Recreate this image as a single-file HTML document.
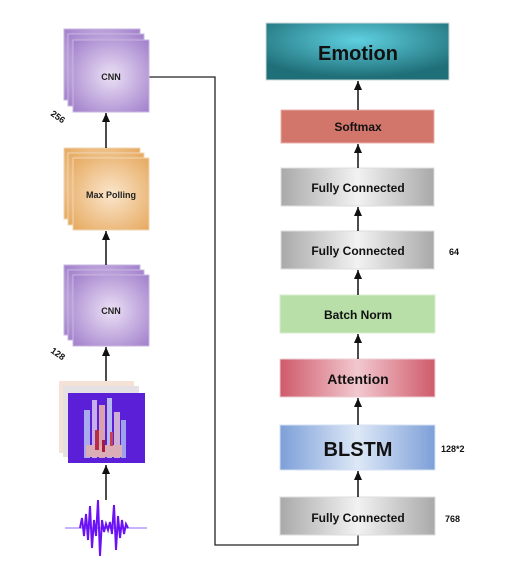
<!DOCTYPE html>
<html><head><meta charset="utf-8"><style>
html,body{margin:0;padding:0;background:#fff;}
svg text{font-family:"Liberation Sans",sans-serif;}
</style></head><body>
<svg width="512" height="568" viewBox="0 0 512 568" xmlns="http://www.w3.org/2000/svg">
<defs>
<radialGradient id="pur" cx="50%" cy="50%" r="70%"><stop offset="0" stop-color="#ebe0f5"/><stop offset="1" stop-color="#a17fcb"/></radialGradient>
<radialGradient id="org" cx="50%" cy="50%" r="70%"><stop offset="0" stop-color="#fbe6cc"/><stop offset="1" stop-color="#e6a95f"/></radialGradient>
<radialGradient id="teal" cx="50%" cy="30%" r="65%"><stop offset="0" stop-color="#5fd0e0"/><stop offset="1" stop-color="#1f6f78"/></radialGradient>
<linearGradient id="gray" x1="0" x2="1"><stop offset="0" stop-color="#a9a9a9"/><stop offset="0.5" stop-color="#f2f2f2"/><stop offset="1" stop-color="#a9a9a9"/></linearGradient>
<linearGradient id="red" x1="0" x2="1"><stop offset="0" stop-color="#cf5a6a"/><stop offset="0.5" stop-color="#f2c8cf"/><stop offset="1" stop-color="#cf5a6a"/></linearGradient>
<linearGradient id="blue" x1="0" x2="1"><stop offset="0" stop-color="#7d9fd8"/><stop offset="0.5" stop-color="#dde8f7"/><stop offset="1" stop-color="#7d9fd8"/></linearGradient>
<marker id="ah" markerWidth="9" markerHeight="8" refX="9" refY="4" orient="auto" markerUnits="userSpaceOnUse"><path d="M0,0 L9,4 L0,8 z" fill="#111"/></marker>
</defs>

<!-- connector -->
<polyline points="149,77 215,77 215,545 358,545 358,535" fill="none" stroke="#222" stroke-width="1.3"/>

<!-- left stacks -->
<g stroke="#c9b6e0" stroke-width="1">
<rect x="64" y="29" width="76" height="71" fill="url(#pur)"/>
<rect x="68" y="34" width="76" height="72" fill="url(#pur)"/>
<rect x="73" y="40" width="76" height="72" fill="url(#pur)"/>
</g>
<text x="111" y="80" font-size="9" font-weight="bold" text-anchor="middle" fill="#222">CNN</text>
<text x="0" y="0" font-size="9" font-weight="bold" fill="#111" transform="translate(50,115) rotate(35)">256</text>

<g stroke="#f0d6b3" stroke-width="1">
<rect x="64" y="148" width="76" height="71" fill="url(#org)"/>
<rect x="68" y="153" width="76" height="72" fill="url(#org)"/>
<rect x="73" y="158" width="76" height="72" fill="url(#org)"/>
</g>
<text x="111" y="198" font-size="9" font-weight="bold" text-anchor="middle" fill="#222">Max Polling</text>

<g stroke="#c9b6e0" stroke-width="1">
<rect x="64" y="265" width="76" height="70" fill="url(#pur)"/>
<rect x="68" y="270" width="76" height="70" fill="url(#pur)"/>
<rect x="73" y="275" width="76" height="71" fill="url(#pur)"/>
</g>
<text x="111" y="314" font-size="9" font-weight="bold" text-anchor="middle" fill="#222">CNN</text>
<text x="0" y="0" font-size="9" font-weight="bold" fill="#111" transform="translate(50,352) rotate(35)">128</text>

<!-- spectrogram -->
<rect x="59" y="381" width="75" height="72" fill="#f5e2d6"/>
<rect x="63" y="386" width="76" height="71" fill="#e4e0e4"/>
<rect x="68" y="393" width="77" height="70" fill="#5a1fd6"/>
<g opacity="0.85">
<rect x="84" y="410" width="6" height="48" fill="#b9c4f4"/>
<rect x="92" y="400" width="5" height="58" fill="#d9c9f0"/>
<rect x="99" y="405" width="6" height="53" fill="#f0b9a8"/>
<rect x="107" y="398" width="5" height="60" fill="#c7d3f7"/>
<rect x="114" y="412" width="6" height="46" fill="#e2c8d8"/>
<rect x="121" y="420" width="5" height="38" fill="#aab8f0"/>
<rect x="86" y="445" width="36" height="12" fill="#f2c8b2"/>
<rect x="95" y="430" width="4" height="20" fill="#c8302a"/>
<rect x="102" y="440" width="3" height="12" fill="#b51d1d"/>
<rect x="110" y="432" width="3" height="14" fill="#d84a3a"/>
</g>

<!-- waveform -->
<line x1="65" y1="528" x2="147" y2="528" stroke="#b59aff" stroke-width="1.5"/>
<path d="M80,528 L82,518 L84,536 L86,514 L88,540 L90,506 L92,548 L94,520 L96,536 L98,500 L100,556 L102,520 L104,532 L106,524 L108,530 L110,522 L112,534 L114,505 L116,550 L118,516 L120,538 L122,520 L124,534 L126,524 L128,528" fill="none" stroke="#6a12f5" stroke-width="2"/>

<!-- left arrows -->
<g stroke="#111" stroke-width="1.5" marker-end="url(#ah)">
<line x1="106" y1="148" x2="106" y2="113"/>
<line x1="106" y1="265" x2="106" y2="231"/>
<line x1="106" y1="381" x2="106" y2="347"/>
<line x1="106" y1="500" x2="106" y2="465"/>
</g>

<!-- right stack -->
<rect x="266" y="23" width="183" height="57" fill="url(#teal)" stroke="#cfd8da"/>
<text x="358" y="60" font-size="20" font-weight="bold" text-anchor="middle" fill="#111">Emotion</text>
<rect x="281" y="110" width="153" height="33" fill="#d2766c" stroke="#e8b0aa"/>
<text x="358" y="131" font-size="12" font-weight="bold" text-anchor="middle" fill="#111">Softmax</text>
<rect x="281" y="168" width="153" height="38" fill="url(#gray)" stroke="#ddd"/>
<text x="358" y="192" font-size="12" font-weight="bold" text-anchor="middle" fill="#111">Fully Connected</text>
<rect x="281" y="231" width="153" height="38" fill="url(#gray)" stroke="#ddd"/>
<text x="358" y="255" font-size="12" font-weight="bold" text-anchor="middle" fill="#111">Fully Connected</text>
<text x="449" y="255" font-size="9" font-weight="bold" fill="#111">64</text>
<rect x="280" y="295" width="155" height="38" fill="#b8dfa8" stroke="#d8ecd0"/>
<text x="358" y="319" font-size="12" font-weight="bold" text-anchor="middle" fill="#111">Batch Norm</text>
<rect x="280" y="359" width="155" height="38" fill="url(#red)" stroke="#eccfd4"/>
<text x="358" y="384" font-size="14" font-weight="bold" text-anchor="middle" fill="#111">Attention</text>
<rect x="280" y="425" width="155" height="45" fill="url(#blue)" stroke="#d6e0f2"/>
<text x="358" y="456" font-size="20" font-weight="bold" text-anchor="middle" fill="#111">BLSTM</text>
<text x="441" y="452" font-size="9" font-weight="bold" fill="#111">128*2</text>
<rect x="280" y="497" width="155" height="38" fill="url(#gray)" stroke="#ddd"/>
<text x="358" y="522" font-size="12" font-weight="bold" text-anchor="middle" fill="#111">Fully Connected</text>
<text x="445" y="522" font-size="9" font-weight="bold" fill="#111">768</text>

<g stroke="#111" stroke-width="1.5" marker-end="url(#ah)">
<line x1="358" y1="110" x2="358" y2="81"/>
<line x1="358" y1="168" x2="358" y2="144"/>
<line x1="358" y1="231" x2="358" y2="207"/>
<line x1="358" y1="295" x2="358" y2="270"/>
<line x1="358" y1="359" x2="358" y2="334"/>
<line x1="358" y1="425" x2="358" y2="398"/>
<line x1="358" y1="497" x2="358" y2="471"/>
</g>
</svg>
</body></html>
